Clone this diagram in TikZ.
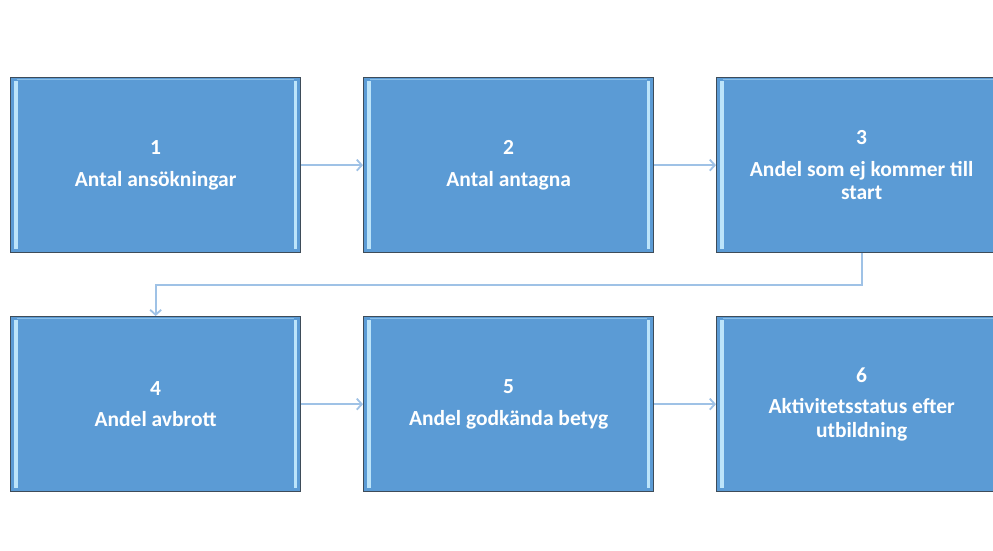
\documentclass[tikz,border=0pt]{standalone}
\usepackage{fontspec}
\setmainfont{Carlito}
\usetikzlibrary{arrows.meta}
\definecolor{boxfill}{HTML}{5B9BD5}
\definecolor{boxedge}{HTML}{3E4C59}
\definecolor{bevel}{HTML}{BCE4FA}
\definecolor{connc}{HTML}{9FC2E6}
\begin{document}
\begin{tikzpicture}[x=1pt,y=-1pt,
  stepbox/.style={draw=boxedge, line width=1.3pt, fill=boxfill,
    minimum width=290pt, minimum height=175pt, inner sep=0pt,
    anchor=north west, text=white,
    font=\bfseries\fontsize{21.5}{23.5}\selectfont, align=center},
  connline/.style={draw=connc, line width=1.8pt,
    -{Straight Barb[length=5pt,width=11pt]}}]
\useasboundingbox (0,0) rectangle (993,550);
\clip (0,0) rectangle (993,550);
\fill[white] (0,0) rectangle (993,550);
\node[stepbox] (b1) at (10,77)  {1\\[8pt]Antal ansökningar};
\node[stepbox] (b2) at (363,77) {2\\[8pt]Antal antagna};
\node[stepbox] (b3) at (716,77) {3\\[8pt]Andel som ej kommer till\\start};
\node[stepbox] (b4) at (10,316)  {4\\[8pt]Andel avbrott};
\node[stepbox] (b5) at (363,316) {5\\[8pt]Andel godkända betyg};
\node[stepbox] (b6) at (716,316) {6\\[8pt]Aktivitetsstatus efter\\utbildning};
\foreach \b in {b1,b2,b3,b4,b5,b6}{
  \fill[bevel] ([xshift=4pt,yshift=-4pt]\b.north west) rectangle ([xshift=7.5pt,yshift=4pt]\b.south west);
  \fill[bevel] ([xshift=-7.5pt,yshift=-4pt]\b.north east) rectangle ([xshift=-4pt,yshift=4pt]\b.south east);
  \draw[bevel, opacity=0.5, line width=0.8pt] ([xshift=7pt,yshift=-2.5pt]\b.north west) -- ([xshift=-7pt,yshift=-2.5pt]\b.north east);
}
\draw[connline] (b1.east) -- (b2.west);
\draw[connline] (b2.east) -- (b3.west);
\draw[connline] (b3.south) -- ++(0,32) -| (b4.north);
\draw[connline] (b4.east) -- (b5.west);
\draw[connline] (b5.east) -- (b6.west);
\end{tikzpicture}
\end{document}
